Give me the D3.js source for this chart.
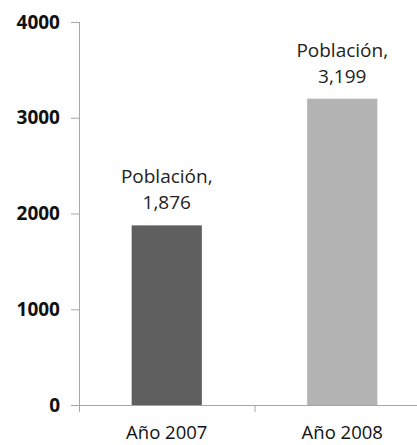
<!DOCTYPE html>
<html>
<head>
<meta charset="utf-8">
<script src="https://cdn.jsdelivr.net/npm/d3@7"></script>
<style>
  body { margin: 0; background: #fff; }
  svg { display: block; font-family: 'Open Sans', sans-serif; }
</style>
</head>
<body>
<div id="chart"></div>
<script>
let years = ['Año 2007', 'Año 2008']
let poblacion = [1876, 3199]
let barColors = ['#5f5f5f', '#b3b3b3']
let yTicks = [0, 1000, 2000, 3000, 4000]
let seriesName = 'Población'

let width = 417
let height = 445
let margin = { top: 22, left: 79, right: -13, bottom: 40 }
let plotW = width - margin.left - margin.right
let plotH = height - margin.top - margin.bottom

let axisColor = '#a6a6a6'

let svg = d3
  .select('#chart')
  .append('svg')
  .attr('width', width)
  .attr('height', height)
  .append('g')
  .attr('transform', 'translate(' + margin.left + ',' + margin.top + ')')

let yPositionScale = d3.scaleLinear().domain([0, 4000]).range([plotH, 0])
let xPositionScale = d3.scaleBand().domain(years).range([0, plotW])
let edgeScale = d3.scaleLinear().domain([0, years.length]).range([0, plotW])

let barWidth = xPositionScale.bandwidth() * 0.4
let data = years.map((d, i) => ({ year: d, value: poblacion[i], color: barColors[i] }))

// bars
svg
  .selectAll('.bar')
  .data(data)
  .enter()
  .append('rect')
  .attr('class', 'bar')
  .attr('x', d => xPositionScale(d.year) + (xPositionScale.bandwidth() - barWidth) / 2)
  .attr('width', barWidth)
  .attr('y', d => yPositionScale(d.value))
  .attr('height', d => plotH - yPositionScale(d.value))
  .attr('fill', d => d.color)

// y axis
let yAxis = d3
  .axisLeft(yPositionScale)
  .tickValues(yTicks)
  .tickSize(8)
  .tickSizeOuter(0)
  .tickPadding(11)
  .tickFormat(d3.format('d'))
let yG = svg.append('g').attr('class', 'axis y-axis').call(yAxis)
yG.select('.domain').remove()
yG.selectAll('line').attr('stroke', axisColor)
yG.selectAll('text')
  .attr('font-size', 19)
  .attr('font-weight', 'bold')
  .attr('fill', '#111')
  .attr('font-family', "'Open Sans', sans-serif")

// x axis: boundary ticks
let edgeAxis = d3
  .axisBottom(edgeScale)
  .tickValues(d3.range(years.length + 1))
  .tickSize(7)
  .tickSizeOuter(0)
  .tickFormat('')
let xG = svg
  .append('g')
  .attr('class', 'axis x-axis')
  .attr('transform', 'translate(0,' + plotH + ')')
  .call(edgeAxis)
xG.select('.domain').remove()
xG.selectAll('line').attr('stroke', axisColor)

// axis lines
svg.append('line')
  .attr('x1', 0).attr('x2', 0)
  .attr('y1', 0).attr('y2', plotH + 7)
  .attr('stroke', axisColor)
  .attr('shape-rendering', 'crispEdges')
svg.append('line')
  .attr('x1', -8).attr('x2', plotW)
  .attr('y1', plotH).attr('y2', plotH)
  .attr('stroke', axisColor)
  .attr('shape-rendering', 'crispEdges')

// category labels
let catAxis = d3.axisBottom(xPositionScale).tickSize(0).tickPadding(0)
let cG = svg
  .append('g')
  .attr('transform', 'translate(0,' + plotH + ')')
  .call(catAxis)
cG.select('.domain').remove()
cG.selectAll('text')
  .attr('y', 34)
  .attr('dy', 0)
  .attr('font-size', 18.5)
  .attr('fill', '#111')
  .attr('font-family', "'Open Sans', sans-serif")

// data labels
let labels = svg
  .selectAll('.bar-label')
  .data(data)
  .enter()
  .append('text')
  .attr('class', 'bar-label')
  .attr('text-anchor', 'middle')
  .attr('font-size', 19)
  .attr('fill', '#222')
  .attr('x', d => xPositionScale(d.year) + xPositionScale.bandwidth() / 2)
  .attr('y', d => yPositionScale(d.value) - 42)

labels.append('tspan').text(seriesName + ',')
labels
  .append('tspan')
  .attr('x', d => xPositionScale(d.year) + xPositionScale.bandwidth() / 2)
  .attr('dy', 26)
  .text(d => d3.format(',')(d.value))
</script>
</body>
</html>
